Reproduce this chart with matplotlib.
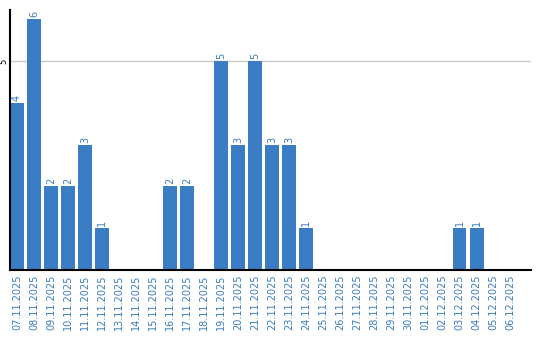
import matplotlib
matplotlib.use("Agg")
import matplotlib.pyplot as plt
import numpy as np

dates = ["07.11.2025", "08.11.2025", "09.11.2025", "10.11.2025", "11.11.2025",
         "12.11.2025", "13.11.2025", "14.11.2025", "15.11.2025", "16.11.2025",
         "17.11.2025", "18.11.2025", "19.11.2025", "20.11.2025", "21.11.2025",
         "22.11.2025", "23.11.2025", "24.11.2025", "25.11.2025", "26.11.2025",
         "27.11.2025", "28.11.2025", "29.11.2025", "30.11.2025", "01.12.2025",
         "02.12.2025", "03.12.2025", "04.12.2025", "05.12.2025", "06.12.2025"]
counts = [4, 6, 2, 2, 3, 1, 0, 0, 0, 2, 2, 0, 5, 3, 5, 3, 3, 1,
          0, 0, 0, 0, 0, 0, 0, 0, 1, 1, 0, 0]

BAR_COLOR = "#3b7dc4"
TEXT_COLOR = "#3a7bbf"

fig = plt.figure(figsize=(5.4, 3.4), dpi=100)
ax = fig.add_axes([10 / 540, 70 / 340, 521 / 540, 260 / 340])

x = np.arange(len(dates))
ax.bar(x, counts, width=0.82, color=BAR_COLOR, zorder=2)

for xi, v in zip(x, counts):
    if v > 0:
        ax.text(xi, v + 0.05, str(v), rotation=90, ha="center", va="bottom",
                fontsize=7, color=TEXT_COLOR)

ax.set_xlim(-0.41, 30.2)
ax.set_ylim(0, 6.22)
ax.set_yticks([5])
ax.set_yticklabels(["5"], rotation=90, va="center", fontsize=6)
ax.yaxis.grid(True, color="#c8c8c8", linewidth=1, zorder=0)
ax.set_xticks(x)
ax.set_xticklabels(dates, rotation=90, fontsize=7, color=TEXT_COLOR)
ax.tick_params(axis="x", length=0, pad=3)
ax.tick_params(axis="y", length=0, pad=1)

for side in ("top", "right"):
    ax.spines[side].set_visible(False)
for side in ("left", "bottom"):
    ax.spines[side].set_linewidth(1.5)
    ax.spines[side].set_color("black")

fig.savefig("out.png", dpi=100)
